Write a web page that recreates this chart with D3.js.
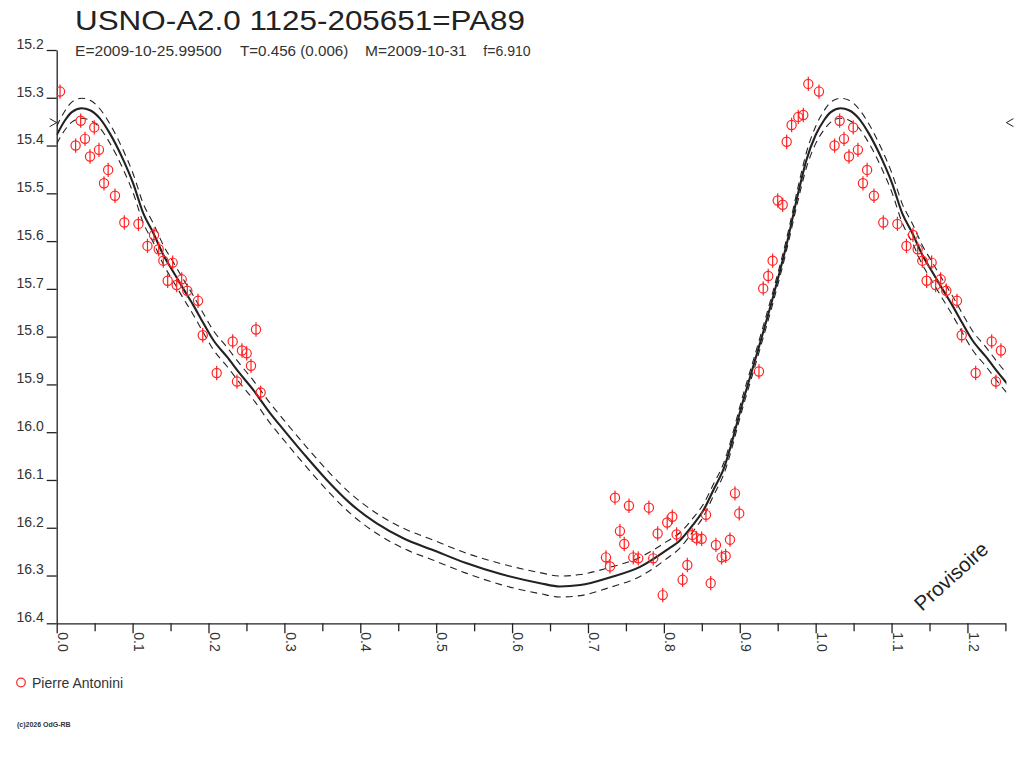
<!DOCTYPE html>
<html lang="en">
<head>
<meta charset="UTF-8">
<title>USNO-A2.0 1125-205651=PA89</title>
<script src="https://d3js.org/d3.v7.min.js"></script>
<style>
  body { margin: 0; background: #fff; }
  svg text { font-family: "Liberation Sans", Arial, sans-serif; }
</style>
</head>
<body>
<div id="container"></div>
<script>
// observations: phase and magnitude (drawn at phase and phase+1)
const obsPhase = [0.0044,0.0249,0.0316,0.0373,0.0439,0.0495,0.0557,0.0623,0.0678,0.0768,
  0.0891,0.1077,0.1196,0.1282,0.1344,0.1405,0.1462,0.1528,0.1581,0.1647,
  0.1721,0.1862,0.1924,0.2108,0.2319,0.2375,0.2441,0.2503,0.2560,0.2626,0.2687,
  0.7237,0.7290,0.7356,0.7421,0.7478,0.7540,0.7597,0.7663,0.7803,0.7860,
  0.7918,0.7985,0.8044,0.8111,0.8168,0.8247,0.8309,0.8373,0.8432,0.8498,
  0.8555,0.8617,0.8686,0.8761,0.8814,0.8871,0.8937,0.8993,
  0.9253,0.9309,0.9375,0.9433,0.9500,0.9566,0.9618,0.9683,0.9771,0.9837,0.9903];
const obsMag = [15.287,15.400,15.348,15.386,15.423,15.362,15.409,15.479,15.451,15.505,
  15.561,15.564,15.610,15.587,15.617,15.641,15.683,15.645,15.692,15.680,
  15.704,15.725,15.797,15.876,15.810,15.894,15.829,15.835,15.861,15.785,15.917,
  16.262,16.281,16.137,16.207,16.234,16.154,16.262,16.264,16.158,16.264,
  16.212,16.341,16.189,16.177,16.214,16.309,16.278,16.215,16.222,16.223,
  16.173,16.316,16.236,16.262,16.259,16.225,16.128,16.170,
  15.873,15.699,15.673,15.641,15.515,15.524,15.392,15.357,15.340,15.336,15.271];
const obsErr = 0.015;

// fitted light curve (one cycle) and its uncertainty band
const curvePhase = [0.000,0.011,0.0199,0.0329,0.0439,0.0568,0.0698,0.0877,0.1007,0.1141,
  0.1276,0.1406,0.1535,0.1665,0.1799,0.1934,0.2063,0.2243,0.2412,0.2592,
  0.2811,0.2991,0.3270,0.3559,0.3868,0.4217,0.4566,0.4964,0.5393,0.5851,
  0.6370,0.6629,0.6898,0.7287,0.7686,0.8035,0.8214,0.8383,0.8523,0.8653,
  0.8782,0.9046,0.9266,0.9440,0.9620,0.9769,0.9879];
const curveMag = [15.378,15.347,15.330,15.322,15.326,15.343,15.374,15.430,15.479,15.542,
  15.584,15.629,15.664,15.699,15.734,15.772,15.807,15.842,15.877,15.912,
  15.960,15.995,16.048,16.100,16.149,16.191,16.222,16.247,16.274,16.297,
  16.316,16.323,16.320,16.304,16.282,16.247,16.226,16.194,16.163,16.121,
  16.079,15.933,15.814,15.716,15.605,15.500,15.430];
const curveErr = [0.018,0.02,0.021,0.021,0.021,0.02,0.02,0.02,0.02,0.02,
  0.02,0.02,0.02,0.02,0.02,0.02,0.02,0.02,0.02,0.02,
  0.021,0.021,0.021,0.021,0.021,0.021,0.021,0.021,0.021,0.022,
  0.022,0.022,0.022,0.021,0.02,0.018,0.016,0.014,0.013,0.012,
  0.012,0.012,0.012,0.012,0.012,0.014,0.016];

const xTicks = [0.0,0.1,0.2,0.3,0.4,0.5,0.6,0.7,0.8,0.9,1.0,1.1,1.2];
const xMinorTicks = [0.05,0.15,0.25,0.35,0.45,0.55,0.65,0.75,0.85,0.95,1.05,1.15,1.25];
const yTicks = [15.2,15.3,15.4,15.5,15.6,15.7,15.8,15.9,16.0,16.1,16.2,16.3,16.4];
const maxMarkMag = 15.352;

const title = "USNO-A2.0 1125-205651=PA89";
const subParts = ["E=2009-10-25.99500", "T=0.456 (0.006)", "M=2009-10-31", "f=6.910"];
const observer = "Pierre Antonini";

const W = 1024, H = 768;
const x = d3.scaleLinear().domain([0, 1.25]).range([56.7, 1005.4]);
const y = d3.scaleLinear().domain([15.2, 16.4]).range([50, 623.3]);

const svg = d3.select("#container").append("svg").attr("width", W).attr("height", H);

svg.append("defs").append("clipPath").attr("id", "plot")
  .append("rect").attr("x", x(0)).attr("y", 0).attr("width", x(1.25) - x(0) + 1).attr("height", y(16.4));

// title + header line
svg.append("text").attr("x", 75).attr("y", 30).attr("font-size", 27.5)
  .attr("textLength", 450).attr("lengthAdjust", "spacingAndGlyphs")
  .attr("fill", "#222").text(title);
const subX = [75, 240, 365, 483.3];
const subW = [146.7, 108.3, 101.7, 47.4];
subParts.forEach((t, i) => {
  svg.append("text").attr("x", subX[i]).attr("y", 55.5).attr("font-size", 15.5)
    .attr("textLength", subW[i]).attr("lengthAdjust", "spacingAndGlyphs")
    .attr("fill", "#333").text(t);
});

// axes
const yAxis = svg.append("g").attr("transform", `translate(${x(0)},0)`)
  .call(d3.axisLeft(y).tickValues(yTicks).tickSize(10).tickSizeOuter(0).tickPadding(3).tickFormat(d3.format(".1f")));
yAxis.selectAll("text").attr("dy", "-0.12em").attr("font-size", 14).attr("fill", "#333")
  .style("font-family", "Liberation Sans, Arial, sans-serif");

const xAxis = svg.append("g").attr("transform", `translate(0,${y(16.4)})`)
  .call(d3.axisBottom(x).tickValues(xTicks).tickSize(10).tickSizeOuter(0).tickFormat(d3.format(".1f")));
xAxis.selectAll("text").attr("transform", "rotate(90)").attr("x", 9).attr("y", 0).attr("dy", "-0.05em")
  .style("text-anchor", "start").attr("font-size", 14).attr("fill", "#333")
  .style("font-family", "Liberation Sans, Arial, sans-serif");
svg.append("g").attr("transform", `translate(0,${y(16.4)})`)
  .call(d3.axisBottom(x).tickValues(xMinorTicks).tickSize(8).tickSizeOuter(0).tickFormat(""))
  .select(".domain").remove();
svg.selectAll(".domain, .tick line").attr("stroke", "#222").attr("stroke-width", 1.3);

// light curve, repeated one cycle
const nodes = [];
curvePhase.forEach((p, i) => {
  nodes.push([p, curveMag[i], curveErr[i]]);
  nodes.push([p + 1, curveMag[i], curveErr[i]]);
});
nodes.sort((a, b) => a[0] - b[0]);
const ext = nodes.filter(d => d[0] <= 1.32);

const plot = svg.append("g").attr("clip-path", "url(#plot)");
const line = (k) => d3.line().x(d => x(d[0])).y(d => y(d[1] + k * d[2])).curve(d3.curveMonotoneX);

[-1, 1].forEach(k => {
  plot.append("path").datum(ext).attr("d", line(k)).attr("fill", "none")
    .attr("stroke", "#222").attr("stroke-width", 1.1).attr("stroke-dasharray", "7,5");
});
plot.append("path").datum(ext).attr("d", line(0)).attr("fill", "none")
  .attr("stroke", "#222").attr("stroke-width", 2.1);

// observations
const pts = [];
obsPhase.forEach((p, i) => {
  pts.push([p, obsMag[i]]);
  if (p + 1 <= 1.25) pts.push([p + 1, obsMag[i]]);
});
const mk = plot.selectAll("g.obs").data(pts).enter().append("g").attr("class", "obs")
  .attr("transform", d => `translate(${x(d[0])},${y(d[1])})`);
mk.append("line").attr("x1", 0).attr("x2", 0)
  .attr("y1", d => y(d[1] - obsErr) - y(d[1])).attr("y2", d => y(d[1] + obsErr) - y(d[1]))
  .attr("stroke", "#f22").attr("stroke-width", 1.2);
mk.append("circle").attr("r", 4.6).attr("fill", "none").attr("stroke", "#f22").attr("stroke-width", 1.2);

// max markers
const ym = y(maxMarkMag);
svg.append("path").attr("d", `M${x(0) - 7},${ym - 4}L${x(0)},${ym}L${x(0) - 7},${ym + 4}`)
  .attr("fill", "none").attr("stroke", "#222").attr("stroke-width", 1);
svg.append("path").attr("d", `M${x(1.25) + 8},${ym - 4}L${x(1.25) + 1},${ym}L${x(1.25) + 8},${ym + 4}`)
  .attr("fill", "none").attr("stroke", "#222").attr("stroke-width", 1);

// provisional stamp
svg.append("text").attr("transform", "translate(922,612) rotate(-42)")
  .attr("font-size", 20.5).attr("fill", "#222").text("Provisoire");

// legend
svg.append("circle").attr("cx", 21).attr("cy", 682.5).attr("r", 4.3)
  .attr("fill", "none").attr("stroke", "#f22").attr("stroke-width", 1.2);
svg.append("text").attr("x", 32).attr("y", 687.5).attr("font-size", 14).attr("fill", "#333").text(observer);

svg.append("text").attr("x", 17).attr("y", 727).attr("font-size", 7).attr("font-weight", "bold")
  .attr("fill", "#333").text("(c)2026 OdG-RB");
</script>
</body>
</html>
